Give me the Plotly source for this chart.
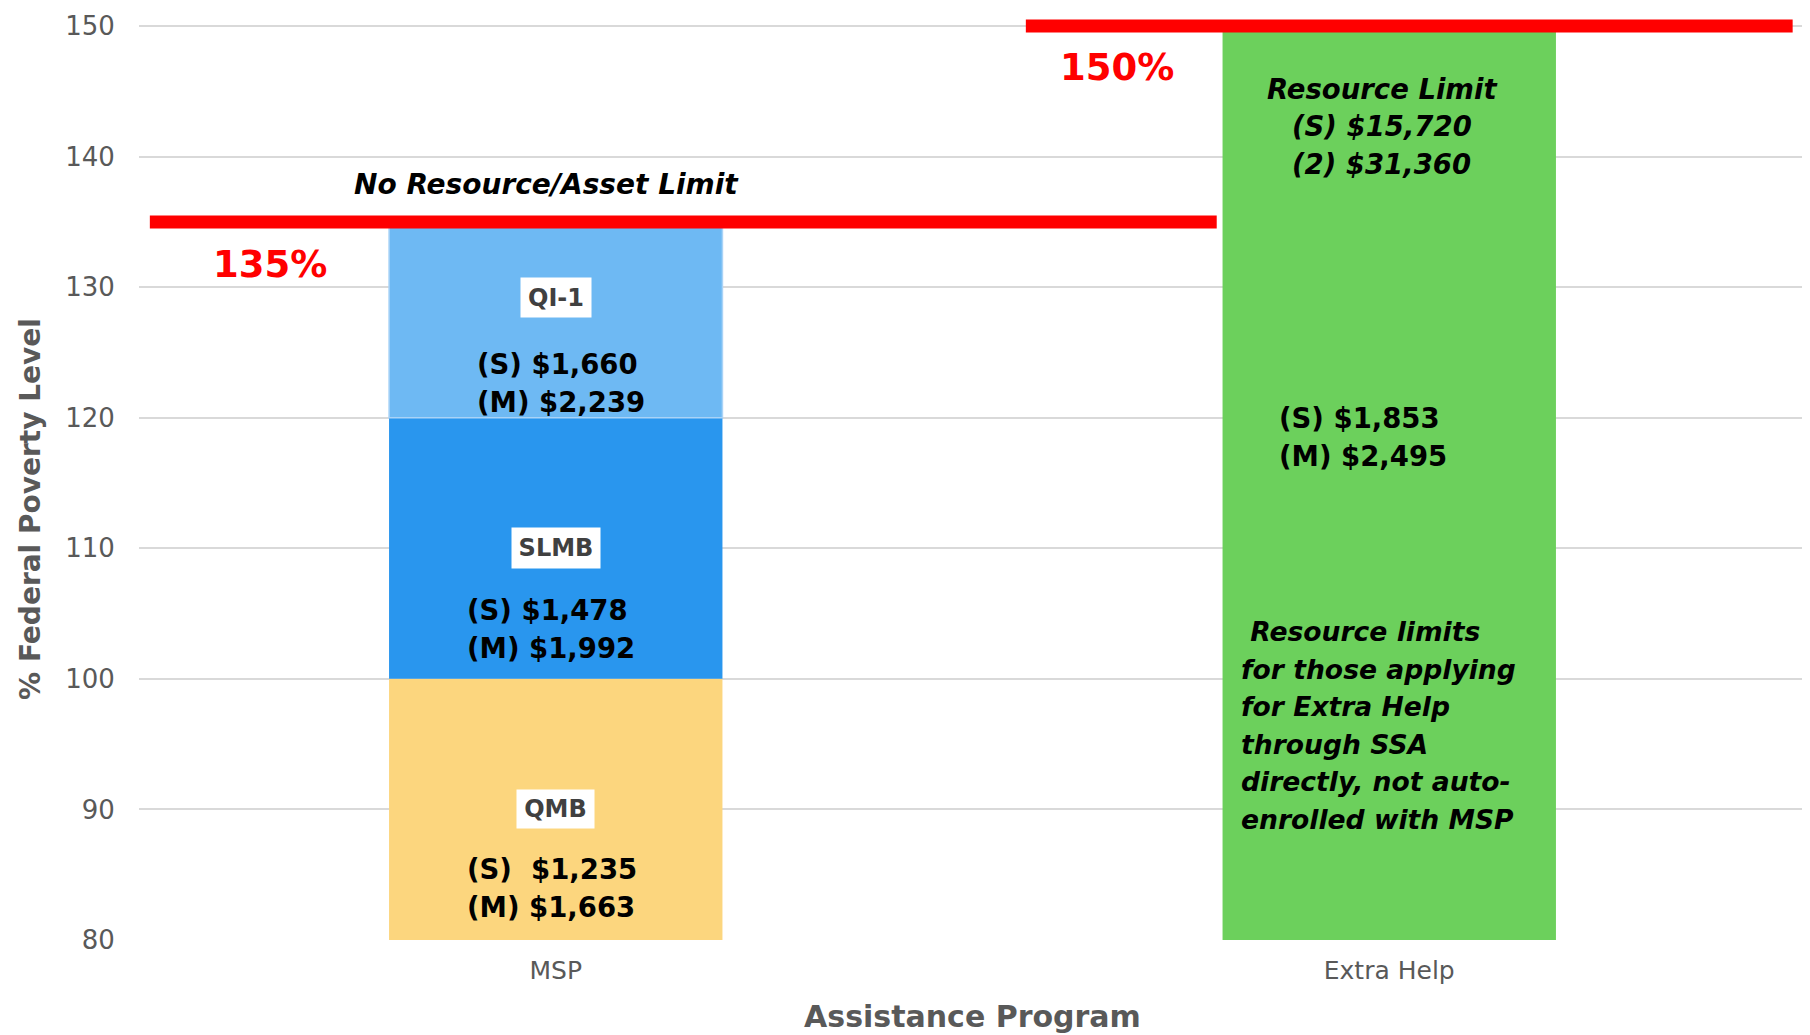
import plotly.graph_objects as go

# ---------------- data ----------------
programs = ["MSP", "Extra Help"]
program_pos = [0, 1]

msp_tiers = ["QMB", "SLMB", "QI-1"]
msp_tier_bottoms = [80, 100, 120]
msp_tier_tops = [100, 120, 135]
msp_tier_colors = ["#FCD67E", "#2996EE", "#6EB9F3"]
msp_tier_income = [
    ["(S)\u00a0\u00a0$1,235", "(M) $1,663"],
    ["(S) $1,478", "(M) $1,992"],
    ["(S) $1,660", "(M) $2,239"],
]

eh_bottom = 80
eh_top = 150
eh_color = "#6CD05C"
eh_income = ["(S) $1,853", "(M) $2,495"]
eh_resource = ["Resource Limit", "(S) $15,720", "(2) $31,360"]
eh_note = ["\u00a0Resource limits", "for those applying", "for Extra Help",
           "through SSA", "directly, not auto-", "enrolled with MSP"]

fpl_limits = [135, 150]
fpl_labels = ["135%", "150%"]
fpl_spans = [(-0.487, 0.793), (0.564, 1.484)]
msp_resource_note = "No Resource/Asset Limit"

y_ticks = [80, 90, 100, 110, 120, 130, 140, 150]

# ---------------- figure ----------------
FONT = "DejaVu Sans"
GRAY = "#595959"
fig = go.Figure()

for name, b, t, c in zip(msp_tiers, msp_tier_bottoms, msp_tier_tops, msp_tier_colors):
    fig.add_trace(go.Bar(
        x=[program_pos[0]], y=[t - b], base=[b], width=0.4, name=name,
        marker=dict(color=c, line=dict(color="#A9D3F7" if name == "QI-1" else c,
                                       width=1.5 if name == "QI-1" else 0)),
        showlegend=False, hoverinfo="skip"))

fig.add_trace(go.Bar(
    x=[program_pos[1]], y=[eh_top - eh_bottom], base=[eh_bottom], width=0.4,
    name="Extra Help", marker=dict(color=eh_color, line=dict(width=0)),
    showlegend=False, hoverinfo="skip"))

# red FPL threshold lines
for lim, (x0, x1) in zip(fpl_limits, fpl_spans):
    fig.add_shape(type="line", xref="x", yref="y", x0=x0, x1=x1, y0=lim, y1=lim,
                  line=dict(color="#FF0000", width=13), layer="above")

ann = []
# threshold labels
ann.append(dict(x=-0.343, y=131.7, text=fpl_labels[0], showarrow=False,
                font=dict(family=FONT, size=37, color="#FF0000", weight="bold")))
ann.append(dict(x=0.673, y=146.8, text=fpl_labels[1], showarrow=False,
                font=dict(family=FONT, size=37, color="#FF0000", weight="bold")))
ann.append(dict(x=-0.011, y=137.85, text=msp_resource_note, showarrow=False,
                font=dict(family=FONT, size=28, color="black", weight="bold", style="italic")))

# tier name boxes
box_sizes = {"QMB": (69, 30), "SLMB": (80, 32), "QI-1": (62, 31)}
box_y = [90.0, 110.0, 129.2]
for name, yy in zip(msp_tiers, box_y):
    w, h = box_sizes[name]
    ann.append(dict(x=0, y=yy, text=name, showarrow=False, bgcolor="white",
                    width=w, height=h, borderpad=4,
                    font=dict(family=FONT, size=24, color="#404040", weight="bold")))

# tier income lines
income_y = [85.43, 105.3, 124.1]
income_x = [-0.109, -0.109, -0.097]
for lines, yy, xx in zip(msp_tier_income, income_y, income_x):
    for i, line in enumerate(lines):
        ann.append(dict(x=xx, y=yy, yshift=-38 * i, xanchor="left", text=line,
                        showarrow=False,
                        font=dict(family=FONT, size=27.5, color="black", weight="bold")))

# Extra Help texts
for i, line in enumerate(eh_resource):
    ann.append(dict(x=0.991, y=145.19, yshift=-37.5 * i, text=line, showarrow=False,
                    font=dict(family=FONT, size=27.5, color="black", weight="bold",
                              style="italic")))
for i, line in enumerate(eh_income):
    ann.append(dict(x=0.865, y=120.0, yshift=-38 * i, xanchor="left", text=line,
                    showarrow=False,
                    font=dict(family=FONT, size=27.5, color="black", weight="bold")))
for i, line in enumerate(eh_note):
    ann.append(dict(x=0.82, y=103.6, yshift=-37.5 * i, xanchor="left", text=line,
                    showarrow=False,
                    font=dict(family=FONT, size=26.6, color="black", weight="bold",
                              style="italic")))

# y axis title as annotation (offset like reference)
ann.append(dict(xref="paper", yref="paper", x=-0.0648, y=0.465, xanchor="center",
                yanchor="middle", text="% Federal Poverty Level",
                textangle=-90, showarrow=False,
                font=dict(family=FONT, size=28, color=GRAY, weight="bold")))

for a in ann:
    a.setdefault("xref", "x")
    a.setdefault("yref", "y")
fig.update_layout(annotations=ann)

fig.update_layout(
    width=1810, height=1035,
    margin=dict(l=131, r=12, t=3, b=103),
    plot_bgcolor="white", paper_bgcolor="white",
    barmode="overlay", showlegend=False,
    xaxis=dict(range=[-0.5, 1.5], tickvals=program_pos, ticktext=programs,
               showgrid=False, zeroline=False, showline=False,
               tickfont=dict(family=FONT, size=25, color=GRAY),
               ticks="outside", ticklen=8, tickcolor="rgba(0,0,0,0)",
               title=dict(text="Assistance Program", standoff=21,
                          font=dict(family=FONT, size=30, color=GRAY, weight="bold"))),
    yaxis=dict(range=[80, 151], tickvals=y_ticks, showgrid=True, gridcolor="#D9D9D9",
               gridwidth=2, zeroline=False, showline=False,
               tickfont=dict(family=FONT, size=26, color=GRAY),
               ticks="outside", ticklen=18, tickcolor="rgba(0,0,0,0)"),
)

fig.write_html("out.html")
